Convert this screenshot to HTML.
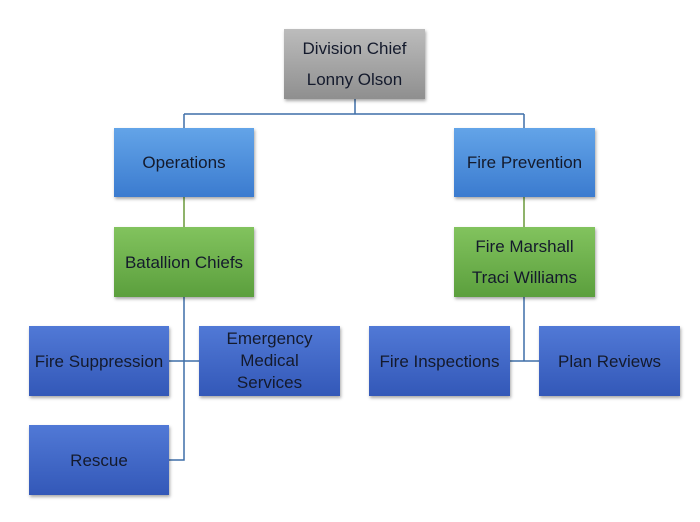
<!DOCTYPE html>
<html><head><meta charset="utf-8"><style>
html,body{margin:0;padding:0;background:#fff;width:700px;height:522px;overflow:hidden}
.b{position:absolute;display:flex;flex-direction:column;align-items:center;justify-content:center;text-align:center;font-family:"Liberation Sans",sans-serif;font-size:17px;color:#141a2c;line-height:31px;box-shadow:1px 2px 3px rgba(0,0,0,0.35);box-sizing:border-box}
.g{background:linear-gradient(#bcbcbc,#8f8f8f)}
.u{background:linear-gradient(#63a4e8,#3b7bcf)}
.gr{background:linear-gradient(#82c35e,#5b9f3d)}
.d{background:linear-gradient(#5179d6,#3358b8)}
.t{line-height:22px}
</style></head><body>
<svg width="700" height="522" style="position:absolute;left:0;top:0">
<g stroke="#3e6fa8" stroke-width="1.5" fill="none">
<path d="M355 99V114M184 114H524M184 114V128M524 114V128"/>
<path d="M184 197V227M524 197V227" stroke="#6a9a3a"/>
<path d="M184 297V460H169M169 361H199"/>
<path d="M524 297V361M510 361H539"/>
</g></svg>
<div class="b g" style="left:284px;top:29px;width:141px;height:70px"><div>Division Chief</div><div>Lonny Olson</div></div>
<div class="b u" style="left:114px;top:128px;width:140px;height:69px">Operations</div>
<div class="b u" style="left:454px;top:128px;width:141px;height:69px">Fire Prevention</div>
<div class="b gr" style="left:114px;top:227px;width:140px;height:70px">Batallion Chiefs</div>
<div class="b gr" style="left:454px;top:227px;width:141px;height:70px"><div>Fire Marshall</div><div>Traci Williams</div></div>
<div class="b d" style="left:29px;top:326px;width:140px;height:70px">Fire Suppression</div>
<div class="b d t" style="left:199px;top:326px;width:141px;height:70px"><div>Emergency</div><div>Medical</div><div>Services</div></div>
<div class="b d" style="left:29px;top:425px;width:140px;height:70px">Rescue</div>
<div class="b d" style="left:369px;top:326px;width:141px;height:70px">Fire Inspections</div>
<div class="b d" style="left:539px;top:326px;width:141px;height:70px">Plan Reviews</div>
</body></html>
